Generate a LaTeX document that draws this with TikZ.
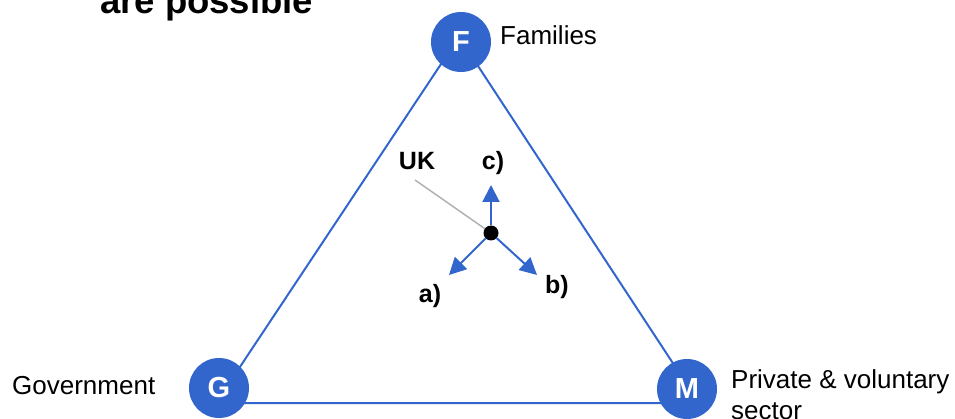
\documentclass[tikz,border=0pt]{standalone}
\usepackage{fontspec}
\setmainfont{Liberation Sans}
\usetikzlibrary{arrows.meta}
\definecolor{tblue}{RGB}{51,102,204}
\tikzset{
  vtx/.style={circle, fill=tblue, minimum size=60pt, inner sep=0pt, text=white, font=\fontsize{29}{33}\selectfont\bfseries},
  lbl/.style={inner sep=0pt, font=\fontsize{26}{31}\selectfont},
  dirlbl/.style={inner sep=0pt, font=\fontsize{25}{29}\selectfont\bfseries},
  edge/.style={draw=tblue, line width=2pt},
  dirarrow/.style={draw=tblue, fill=tblue, line width=2pt, -{Triangle[length=17pt,width=17pt]}},
}
\begin{document}
\begin{tikzpicture}[x=1pt,y=-1pt]
\useasboundingbox (0,0) rectangle (955,419);
% title (partly cut off)
\node[anchor=base west, inner sep=0pt, font=\fontsize{36.5}{40}\selectfont\bfseries] (title) at (100,14) {are possible};
% triangle
\coordinate (tF) at (459,37);
\coordinate (tG) at (216,403);
\coordinate (tM) at (699,403);
\draw[edge] (tF) -- (tG) -- (tM) -- cycle;
% vertices
\node[vtx] (F) at (461,42) {F};
\node[vtx] (G) at (219,388) {G};
\node[vtx] (M) at (687,389) {M};
% labels
\node[lbl, anchor=base west] (famlbl) at (500,45) {Families};
\node[lbl, anchor=base west] (govlbl) at (12,394) {Government};
\node[lbl, anchor=north west, align=left] (pvlbl) at (731,369) {Private \& voluntary\\sector};
% UK point
\node[circle, fill=black, minimum size=15pt, inner sep=0pt] (uk) at (491,233) {};
\coordinate (ac) at (491,185);
\coordinate (aa) at (449,275);
\coordinate (ab) at (537,275);
\draw[dirarrow] (uk) -- (ac);
\draw[dirarrow] (uk) -- (aa);
\draw[dirarrow] (uk) -- (ab);
\node[dirlbl] (clbl) at (493,163) {c)};
\node[dirlbl] (albl) at (430,296) {a)};
\node[dirlbl] (blbl) at (557,287) {b)};
\node[dirlbl] (uklbl) at (417,161) {UK};
\coordinate (ukl) at (415,180);
\draw[draw=black!30, line width=1.5pt] (ukl) -- (uk);
\end{tikzpicture}
\end{document}
